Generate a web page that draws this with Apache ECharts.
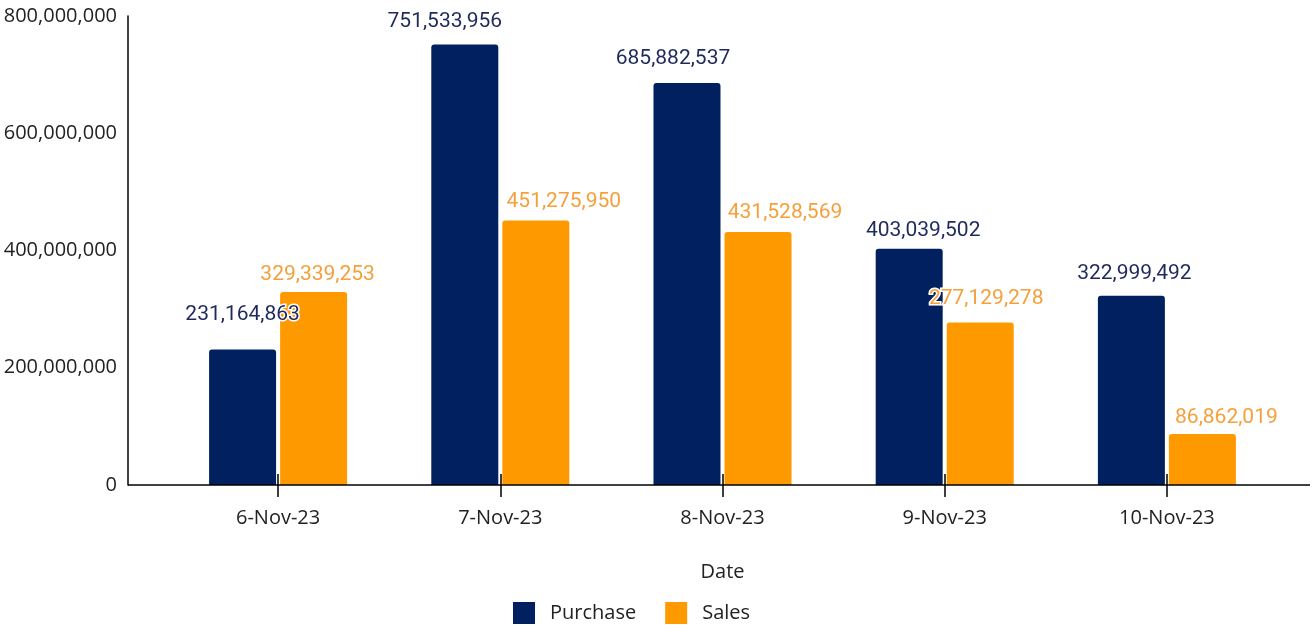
<!DOCTYPE html>
<html>
<head>
<meta charset="utf-8">
<script src="https://cdn.jsdelivr.net/npm/echarts@6/dist/echarts.min.js"></script>
<style>
html,body{margin:0;padding:0;background:#fff;}
#chart{width:1313px;height:626px;}
</style>
</head>
<body>
<div id="chart"></div>
<script>
const categories = ['6-Nov-23', '7-Nov-23', '8-Nov-23', '9-Nov-23', '10-Nov-23'];
const purchase = [231164863, 751533956, 685882537, 403039502, 322999492];
const sales = [329339253, 451275950, 431528569, 277129278, 86862019];
const yTicks = { min: 0, max: 800000000, interval: 200000000 };

// label nudges (layout only), mimicking the original's label collision shifts
const purchaseLabelNudge = [[0, -12], [-20, 0], [-14, -2], [14, 5], [3, 1]];
const salesLabelNudge = [[4, 1], [28, 0], [27, -1], [6, -5], [24, 2]];

const axisFont = '"Open Sans", "Noto Sans", sans-serif';
const labelFont = 'Roboto, sans-serif';
const fmt = v => Number(v).toLocaleString('en-US');

const mkData = (vals, nudge) => vals.map((v, i) => ({ value: v, label: { offset: nudge[i] } }));

const chart = echarts.init(document.getElementById('chart'));
const option = {
  animation: false,
  backgroundColor: '#ffffff',
  grid: { left: 167, right: 35, top: 16, bottom: 141, containLabel: false },
  legend: {
    top: 597,
    left: 508,
    icon: 'rect',
    itemWidth: 22,
    itemHeight: 22,
    itemGap: 29,
    textStyle: { fontFamily: axisFont, fontSize: 20, color: '#222', padding: [0, 0, 0, 10] },
    data: ['Purchase', 'Sales']
  },
  xAxis: [{
    type: 'category',
    data: categories,
    name: 'Date',
    nameLocation: 'middle',
    nameGap: 77,
    nameTextStyle: { fontFamily: axisFont, fontSize: 20, color: '#222' },
    axisLine: { show: false },
    axisTick: { show: true, alignWithLabel: true, length: 12, lineStyle: { color: '#000', width: 1.5 } },
    axisLabel: { fontFamily: axisFont, fontSize: 20, color: '#222', margin: 23 },
    splitLine: { show: false }
  }, {
    type: 'category',
    data: categories,
    position: 'bottom',
    axisLine: { show: false },
    axisTick: { show: true, inside: true, alignWithLabel: true, length: 11, lineStyle: { color: '#000', width: 1.5 } },
    axisLabel: { show: false },
    splitLine: { show: false }
  }],
  yAxis: {
    type: 'value',
    min: yTicks.min,
    max: yTicks.max,
    interval: yTicks.interval,
    offset: 39,
    axisLine: { show: true, lineStyle: { color: '#000', width: 1.5 } },
    axisTick: { show: false },
    splitLine: { show: false },
    axisLabel: { fontFamily: axisFont, fontSize: 20, color: '#222', margin: 11, formatter: fmt }
  },
  series: [{
    name: 'Purchase',
    type: 'bar',
    data: mkData(purchase, purchaseLabelNudge),
    barWidth: 67,
    barGap: '6%',
    itemStyle: { color: '#002060', borderRadius: [3, 3, 0, 0] },
    label: {
      show: true, position: 'top', distance: 12,
      fontFamily: labelFont, fontSize: 21, color: '#1f2a5c',
      textBorderColor: '#fff', textBorderWidth: 3,
      formatter: p => fmt(p.value)
    }
  }, {
    name: 'Sales',
    type: 'bar',
    data: mkData(sales, salesLabelNudge),
    barWidth: 67,
    itemStyle: { color: '#ff9900', borderRadius: [3, 3, 0, 0] },
    label: {
      show: true, position: 'top', distance: 8,
      fontFamily: labelFont, fontSize: 21, color: '#f5a03a',
      textBorderColor: '#fff', textBorderWidth: 3,
      formatter: p => fmt(p.value)
    }
  }]
};
chart.setOption(option);
const y0 = chart.convertToPixel({ yAxisIndex: 0 }, 0);
chart.setOption({
  graphic: [{
    type: 'line',
    z: 10,
    shape: { x1: 128, y1: y0, x2: 1310, y2: y0 },
    style: { stroke: '#000', lineWidth: 1.5 }
  }]
});
</script>
</body>
</html>
